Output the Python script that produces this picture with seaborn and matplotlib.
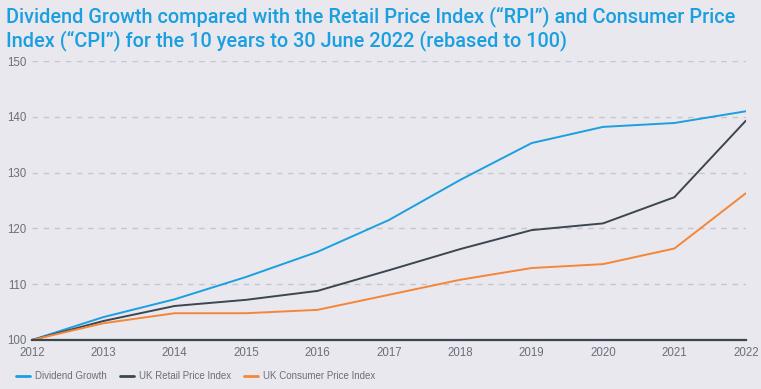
import matplotlib
matplotlib.use("Agg")
import matplotlib.pyplot as plt
import seaborn as sns
import pandas as pd

years = [2012, 2013, 2014, 2015, 2016, 2017, 2018, 2019, 2020, 2021, 2022]
dividend = [100, 104.1, 107.3, 111.3, 115.8, 121.5, 128.7, 135.3, 138.2, 138.9, 141.0]
rpi = [100, 103.4, 106.1, 107.2, 108.8, 112.5, 116.3, 119.7, 120.9, 125.6, 139.3]
cpi = [100, 103.0, 104.8, 104.8, 105.4, 108.1, 110.8, 112.9, 113.6, 116.4, 126.3]
series_names = ["Dividend Growth", "UK Retail Price Index", "UK Consumer Price Index"]
yticks = [100, 110, 120, 130, 140, 150]
title = ("Dividend Growth compared with the Retail Price Index (\u201cRPI\u201d) and Consumer Price\n"
         "Index (\u201cCPI\u201d) for the 10 years to 30 June 2022 (rebased to 100)")

df = pd.DataFrame({"year": years * 3,
                   "value": dividend + rpi + cpi,
                   "series": [series_names[0]] * len(years) + [series_names[1]] * len(years) + [series_names[2]] * len(years)})

sns.set_theme(style="white")
plt.rcParams['font.family'] = ['Liberation Sans', 'DejaVu Sans']
bg = "#e9e8ee"
palette = {series_names[0]: "#1a9fe0", series_names[1]: "#3b4651", series_names[2]: "#f58638"}

fig = plt.figure(figsize=(7.61, 3.89), dpi=100, facecolor=bg)
ax = fig.add_axes([0.042, 0.126, 0.938, 0.717])
ax.set_facecolor(bg)

sns.lineplot(data=df, x="year", y="value", hue="series", palette=palette, ax=ax, linewidth=1.4, legend=True)

ax.set_xlim(2012, 2022)
ax.set_ylim(100, 150)
ax.set_xticks(years)
ax.set_yticks(yticks)
ax.set_xlabel("")
ax.set_ylabel("")
for s in ["top", "right", "left"]:
    ax.spines[s].set_visible(False)
ax.spines["bottom"].set_color("#3b4651")
ax.spines["bottom"].set_linewidth(1.6)
ax.spines["bottom"].set_zorder(5)
for yv in yticks[1:]:
    ax.axhline(yv, color="#c6c6cc", linestyle=(0, (4, 4)), linewidth=1, zorder=0)
ax.tick_params(axis="both", length=0, labelsize=8.3, labelcolor="#6b6f7c")
ax.tick_params(axis="x", pad=5)
ax.tick_params(axis="y", pad=4)

leg = ax.legend(loc="upper left", bbox_to_anchor=(-0.035, -0.08), ncol=3, frameon=False,
                fontsize=7.0, handlelength=1.5, handletextpad=0.5, columnspacing=1.3)
for t in leg.get_texts():
    t.set_color("#6b6f7c")
for h in leg.get_lines():
    h.set_linewidth(2)

fig.text(0.008, 0.985, title, ha="left", va="top", fontsize=14.3, color="#1a9fe0",
         fontfamily=['Roboto', 'Liberation Sans'], fontweight="medium", linespacing=1.2)

fig.savefig("out.png", dpi=100, facecolor=bg)
